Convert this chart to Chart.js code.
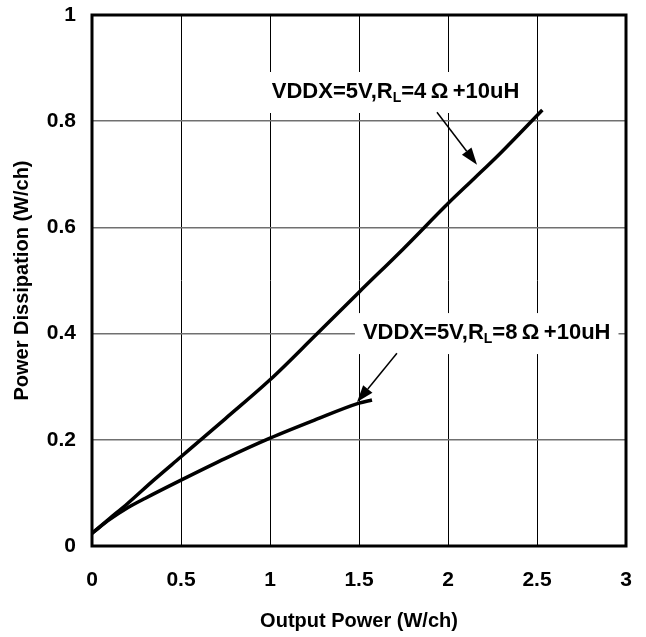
<!DOCTYPE html>
<html>
<head>
<meta charset="utf-8">
<script src="https://cdn.jsdelivr.net/npm/chart.js@4.4.0/dist/chart.umd.min.js"></script>
<style>
  html, body { margin: 0; padding: 0; background: #fff; }
  #wrap { width: 646px; height: 637px; }
</style>
</head>
<body>
<div id="wrap"><canvas id="chart"></canvas></div>
<script>
// valores
const xTicks = [0, 0.5, 1, 1.5, 2, 2.5, 3];
const yTicks = [0, 0.2, 0.4, 0.6, 0.8, 1];

const out4 = [0, 0.1, 0.2, 0.35, 0.5, 0.75, 1, 1.25, 1.5, 1.75, 2, 2.15, 2.28, 2.4, 2.53];
const pd4  = [0.024, 0.052, 0.08, 0.125, 0.168, 0.24, 0.313, 0.395, 0.478, 0.56, 0.645, 0.693, 0.735, 0.776, 0.821];

const out8 = [0, 0.1, 0.2, 0.3, 0.5, 0.75, 1, 1.25, 1.5, 1.573];
const pd8  = [0.024, 0.05, 0.072, 0.09, 0.124, 0.165, 0.203, 0.237, 0.269, 0.275];

// etiquetas con flecha (en unidades de datos)
const notes = [
  { ohm: '4', x: 1.01, y: 0.855, from: [1.938, 0.817], to: [2.163, 0.718] },
  { ohm: '8', x: 1.522, y: 0.401, from: [1.713, 0.363], to: [1.489, 0.271] }
];

const FONT = '"Liberation Sans", Arial, sans-serif';

function toPoints(xs, ys) {
  return xs.map((x, i) => ({ x: x, y: ys[i] }));
}

// marco grueso alrededor del area
const frame = {
  id: 'frame',
  afterDatasetsDraw(chart) {
    const a = chart.chartArea, c = chart.ctx;
    c.save();
    c.lineWidth = 3;
    c.strokeStyle = '#000';
    c.strokeRect(a.left, a.top, a.right - a.left, a.bottom - a.top);
    c.restore();
  }
};

function arrow(c, x1, y1, x2, y2) {
  const ang = Math.atan2(y2 - y1, x2 - x1);
  const len = 17, half = 6;
  const bx = x2 - len * Math.cos(ang), by = y2 - len * Math.sin(ang);
  c.beginPath();
  c.moveTo(x1, y1);
  c.lineTo(bx, by);
  c.lineWidth = 1.5;
  c.stroke();
  c.beginPath();
  c.moveTo(x2, y2);
  c.lineTo(bx + half * Math.sin(ang), by - half * Math.cos(ang));
  c.lineTo(bx - half * Math.sin(ang), by + half * Math.cos(ang));
  c.closePath();
  c.fill();
}

const annotate = {
  id: 'annotate',
  afterDraw(chart) {
    const c = chart.ctx, sx = chart.scales.x, sy = chart.scales.y;
    c.save();
    notes.forEach(n => {
      const big = 'bold 22px ' + FONT, small = 'bold 14px ' + FONT;
      const parts = [
        { t: 'VDDX=5V,R', f: big, dy: 0 },
        { t: 'L', f: small, dy: 6 },
        { t: '=' + n.ohm + '\u2009\u03A9\u2009+10uH', f: big, dy: 0 }
      ];
      let w = 0;
      parts.forEach(p => { c.font = p.f; p.w = c.measureText(p.t).width; w += p.w; });
      const left = sx.getPixelForValue(n.x), cy = sy.getPixelForValue(n.y);
      c.fillStyle = '#fff';
      c.fillRect(left - 8, cy - 20, w + 16, 41);
      c.fillStyle = '#000';
      c.strokeStyle = '#000';
      c.textBaseline = 'middle';
      c.textAlign = 'left';
      let px = left;
      parts.forEach(p => {
        c.font = p.f;
        c.fillText(p.t, px, cy + p.dy);
        px += p.w;
      });
      arrow(c, sx.getPixelForValue(n.from[0]), sy.getPixelForValue(n.from[1]),
               sx.getPixelForValue(n.to[0]), sy.getPixelForValue(n.to[1]));
    });
    c.restore();
  }
};

const lineStyle = {
  borderColor: '#000',
  borderWidth: 3.5,
  pointRadius: 0,
  showLine: true,
  fill: false,
  cubicInterpolationMode: 'monotone'
};

const tickFont = { family: FONT, size: 21, weight: 'bold' };

new Chart(document.getElementById('chart'), {
  type: 'scatter',
  data: {
    datasets: [
      Object.assign({ label: '4 ohm', data: toPoints(out4, pd4) }, lineStyle),
      Object.assign({ label: '8 ohm', data: toPoints(out8, pd8) }, lineStyle)
    ]
  },
  options: {
    responsive: true,
    maintainAspectRatio: false,
    animation: false,
    layout: { padding: { left: 0, right: 20, top: 15, bottom: 0 } },
    plugins: { legend: { display: false }, tooltip: { enabled: false } },
    scales: {
      x: {
        type: 'linear',
        min: 0, max: 3,
        afterBuildTicks: s => { s.ticks = xTicks.map(v => ({ value: v })); },
        afterFit: s => { s.height = 91; s.paddingLeft = 0; s.paddingRight = 0; },
        grid: { color: '#000', lineWidth: 1, drawTicks: false },
        border: { display: false },
        ticks: { color: '#000', padding: 22, font: tickFont, callback: v => String(v) },
        title: {
          display: true, text: 'Output Power (W/ch)', color: '#000',
          padding: { top: 0, bottom: 4 },
          font: { family: FONT, size: 20, weight: 'bold' }
        }
      },
      y: {
        type: 'linear',
        min: 0, max: 1,
        afterBuildTicks: s => { s.ticks = yTicks.map(v => ({ value: v })); },
        afterFit: s => { s.width = 92; s.paddingTop = 0; s.paddingBottom = 0; },
        grid: { color: '#707070', lineWidth: 1.5, drawTicks: false },
        border: { display: false },
        ticks: { color: '#000', padding: 16, font: tickFont, callback: v => String(v) },
        title: {
          display: true, text: 'Power Dissipation (W/ch)', color: '#000',
          padding: { top: 10, bottom: 0 },
          font: { family: FONT, size: 20, weight: 'bold' }
        }
      }
    }
  },
  plugins: [frame, annotate]
});
</script>
</body>
</html>
